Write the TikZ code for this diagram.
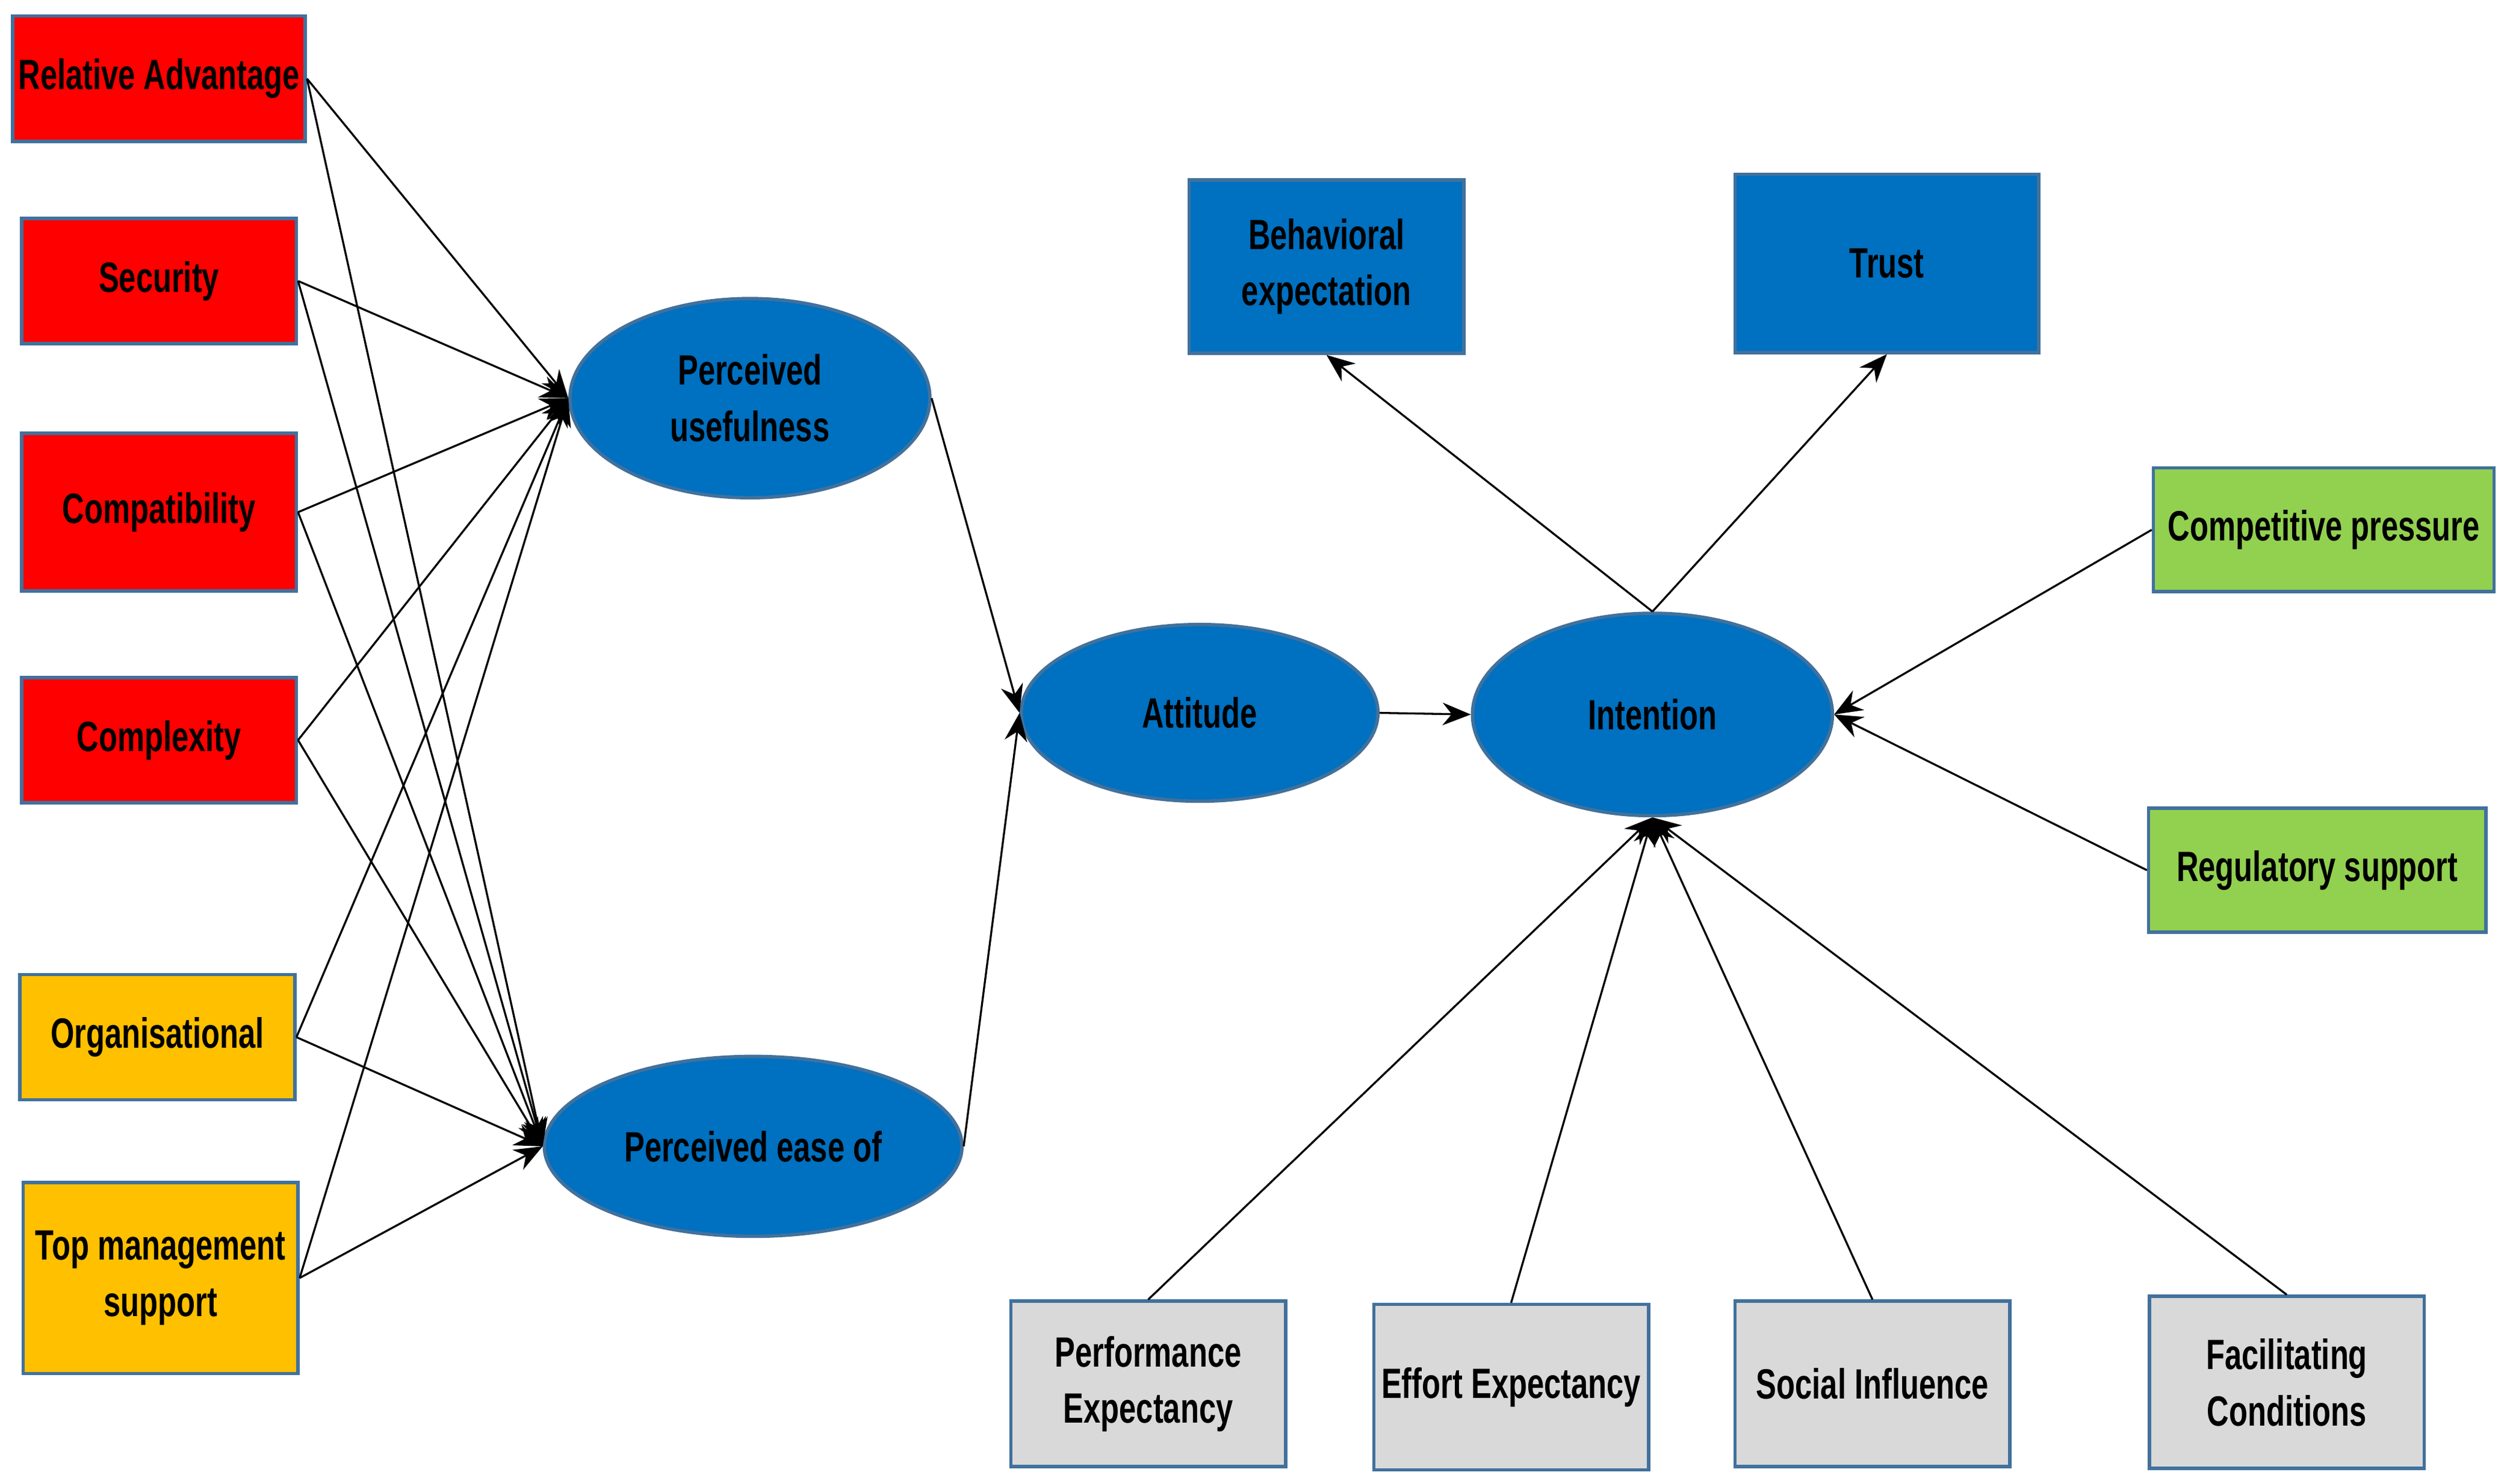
\documentclass[tikz,border=0pt]{standalone}
\usepackage{fontspec}
\setmainfont{Liberation Sans}[FakeStretch=0.72]
\usetikzlibrary{arrows.meta,shapes.geometric}
\definecolor{red1}{HTML}{FF0000}
\definecolor{org}{HTML}{FFC000}
\definecolor{blu}{HTML}{0070C0}
\definecolor{grn}{HTML}{92D050}
\definecolor{gry}{HTML}{D9D9D9}
\definecolor{bord}{HTML}{41719C}
\begin{document}
\begin{tikzpicture}[x=0.01cm,y=-0.01cm,
  box/.style={draw=bord,line width=0.6pt,minimum width=1.71cm,align=center,font=\fontsize{7.5}{10}\selectfont\bfseries,inner sep=1pt},
  rbox/.style={box,fill=red1,minimum height=0.78cm},
  obox/.style={box,fill=org},
  bbox/.style={box,fill=blu,minimum height=1.08cm},
  gbox/.style={box,fill=grn,minimum width=2.12cm,minimum height=0.77cm},
  ybox/.style={box,fill=gry,minimum height=1.03cm},
  ell/.style={ellipse,draw=bord,line width=0.6pt,fill=blu,minimum width=2.24cm,align=center,font=\fontsize{7.5}{10}\selectfont\bfseries},
  ar/.style={-{Stealth[length=5pt,width=4pt]},line width=0.35pt}]
\useasboundingbox (0,0) rectangle (1563,924);
\node[rbox] (ra) at (99,49) {Relative Advantage};
\node[rbox] (se) at (99,175) {Security};
\node[rbox,minimum height=0.98cm] (co) at (99,319) {Compatibility};
\node[rbox] (cx) at (99,461) {Complexity};
\node[obox,minimum height=0.78cm] (or) at (98,646) {Organisational};
\node[obox,minimum height=1.19cm] (tm) at (100,796) {Top management\\support};
\node[ell,minimum height=1.24cm] (pu) at (467,248) {Perceived\\usefulness};
\node[ell,minimum height=1.12cm] (pe) at (469,714) {Perceived ease of};
\node[ell,minimum height=1.1cm,minimum width=2.22cm] (at) at (747,444) {Attitude};
\node[ell,minimum height=1.26cm] (in) at (1029,445) {Intention};
\node[bbox] (be) at (826,166) {Behavioral\\expectation};
\node[bbox,minimum width=1.89cm,minimum height=1.11cm] (tr) at (1175,164) {Trust};
\node[gbox] (cp) at (1447,330) {Competitive pressure};
\node[gbox,minimum width=2.1cm] (rs) at (1443,542) {Regulatory support};
\node[ybox] (pf) at (715,862) {Performance\\Expectancy};
\node[ybox] (ee) at (941,864) {Effort Expectancy};
\node[ybox] (si) at (1166,862) {Social Influence};
\node[ybox,minimum height=1.07cm] (fc) at (1424,861) {Facilitating\\Conditions};
\foreach \s in {ra,se,co,cx,or,tm}{
  \draw[ar] (\s.east) -- (pu.west);
  \draw[ar] (\s.east) -- (pe.west);
}
\draw[ar] (pu.east) -- (at.west);
\draw[ar] (pe.east) -- (at.west);
\draw[ar] (at.east) -- (in.west);
\draw[ar] (in.north) -- (be.south);
\draw[ar] (in.north) -- (tr.south);
\draw[ar] (cp.west) -- (in.east);
\draw[ar] (rs.west) -- (in.east);
\foreach \s in {pf,ee,si,fc} \draw[ar] (\s.north) -- (in.south);
\end{tikzpicture}
\end{document}
